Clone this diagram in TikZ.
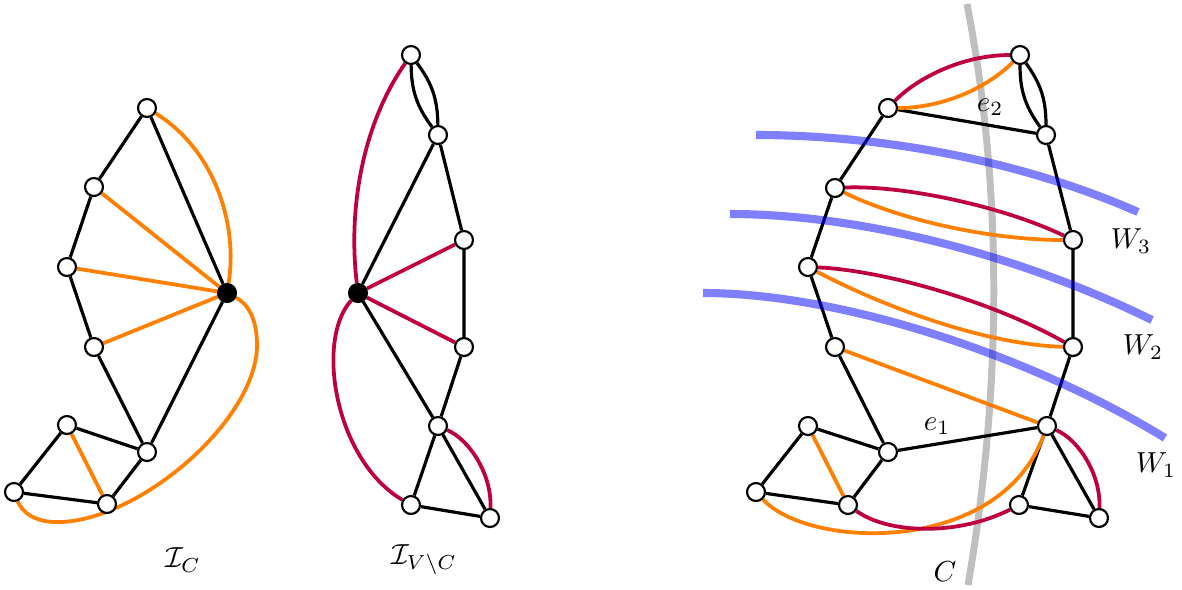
\documentclass[tikz,border=0pt]{standalone}
\usetikzlibrary{calc}
\pgfdeclarelayer{background}
\pgfsetlayers{background,main}
\begin{document}
\begin{tikzpicture}[x=0.345pt,y=-0.345pt,
  vtx/.style={circle,draw=black,fill=white,line width=0.75pt,inner sep=0pt,minimum size=6.2pt},
  hub/.style={circle,draw=black,fill=black,line width=0.75pt,inner sep=0pt,minimum size=6.2pt},
  blk/.style={line width=1.1pt,black},
  org/.style={line width=1.3pt,orange},
  mag/.style={line width=1.3pt,purple},
  wall/.style={line width=2.8pt,blue,opacity=0.5,line cap=butt},
  cut/.style={line width=2.4pt,black!25},
  lab/.style={inner sep=1pt}]
\useasboundingbox (0,0) rectangle (1182,589);

% ---------- left graph I_C ----------
\node[vtx] (T) at (147,108) {};
\node[vtx] (A1) at (94,187) {};
\node[vtx] (A2) at (67,267) {};
\node[vtx] (A3) at (94,347) {};
\node[hub] (H) at (227,293) {};
\node[vtx] (B) at (147,452) {};
\node[vtx] (L1) at (67,425) {};
\node[vtx] (L2) at (14,492) {};
\node[vtx] (L3) at (107,504) {};

% ---------- middle graph ----------
\node[vtx] (M1) at (411,55) {};
\node[vtx] (M2) at (438,135) {};
\node[vtx] (M3) at (464,240) {};
\node[hub] (H2) at (358,293) {};
\node[vtx] (M4) at (464,347) {};
\node[vtx] (M5) at (438,426) {};
\node[vtx] (M6) at (411,505) {};
\node[vtx] (M7) at (490,518) {};

% ---------- right graph ----------
\node[vtx] (R1) at (1020,55) {};
\node[vtx] (R2) at (888,108) {};
\node[vtx] (R3) at (1046,135) {};
\node[vtx] (R4) at (835,188) {};
\node[vtx] (R5) at (1073,240) {};
\node[vtx] (R6) at (808,267) {};
\node[vtx] (R7) at (835,347) {};
\node[vtx] (R8) at (1073,347) {};
\node[vtx] (R9) at (1047,426) {};
\node[vtx] (R10) at (888,452) {};
\node[vtx] (R11) at (808,426) {};
\node[vtx] (R12) at (756,492) {};
\node[vtx] (R13) at (848,505) {};
\node[vtx] (R14) at (1019,505) {};
\node[vtx] (R15) at (1099,518) {};

\coordinate (Ctop) at (967,4);
\coordinate (Cbot) at (968,585);
\coordinate (W3a) at (756,135);
\coordinate (W3b) at (1138,212);
\coordinate (W2a) at (730,214);
\coordinate (W2b) at (1152,320);
\coordinate (W1a) at (703,293);
\coordinate (W1b) at (1165,438);

\begin{pgfonlayer}{background}
% cut C (behind)
\draw[cut] (Ctop) .. controls (1005,200) and (1000,400) .. (Cbot);

% left edges
\draw[blk] (T) -- (A1) -- (A2) -- (A3) -- (B) -- (H) -- (T);
\draw[blk] (L1) -- (B) -- (L3) -- (L2) -- (L1);
\draw[org] (A1) -- (H);
\draw[org] (A2) -- (H);
\draw[org] (A3) -- (H);
\draw[org] (L1) -- (L3);
\draw[org] (T) .. controls (215,150) and (238,225) .. (H);
\draw[org] (H) .. controls (250,305) and (257,322) .. (257,345)
  .. controls (257,420) and (140,520) .. (60,522)
  .. controls (35,523) and (22,512) .. (L2);

% middle edges
\draw[blk] (M1) to[bend left=18] (M2);
\draw[blk] (M1) to[bend right=18] (M2);
\draw[blk] (M2) -- (M3) -- (M4) -- (M5) -- (M6) -- (M7) -- (M5);
\draw[blk] (H2) -- (M2);
\draw[blk] (H2) -- (M5);
\draw[mag] (H2) -- (M3);
\draw[mag] (H2) -- (M4);
\draw[mag] (H2) .. controls (348,210) and (362,125) .. (M1);
\draw[mag] (H2) .. controls (315,340) and (335,460) .. (M6);
\draw[mag] (M5) .. controls (470,440) and (492,475) .. (M7);

% right edges
\draw[blk] (R2) -- (R4) -- (R6) -- (R7) -- (R10) -- (R11) -- (R12) -- (R13) -- (R10);
\draw[blk] (R2) -- (R3);
\draw[blk] (R10) -- (R9);
\draw[blk] (R1) to[bend left=18] (R3);
\draw[blk] (R1) to[bend right=18] (R3);
\draw[blk] (R3) -- (R5) -- (R8) -- (R9) -- (R14) -- (R15) -- (R9);
\draw[mag] (R2) .. controls (915,80) and (960,55) .. (R1);
\draw[org] (R2) .. controls (940,108) and (985,90) .. (R1);
\draw[mag] (R4) .. controls (900,185) and (1000,205) .. (R5);
\draw[org] (R4) .. controls (900,220) and (990,240) .. (R5);
\draw[mag] (R6) .. controls (880,270) and (990,300) .. (R8);
\draw[org] (R6) .. controls (890,310) and (990,345) .. (R8);
\draw[org] (R7) -- (R9);
\draw[org] (R11) -- (R13);
\draw[org] (R12) .. controls (810,550) and (1000,555) .. (R9);
\draw[mag] (R13) .. controls (890,535) and (960,535) .. (R14);
\draw[mag] (R9) .. controls (1079,440) and (1101,475) .. (R15);

% walls
\draw[wall] (W3a) .. controls (880,135) and (1020,160) .. (W3b);
\draw[wall] (W2a) .. controls (860,214) and (1020,255) .. (W2b);
\draw[wall] (W1a) .. controls (840,293) and (1030,355) .. (W1b);
\end{pgfonlayer}

% labels
\node[lab] (lIC) at (183,560) {$\mathcal{I}_C$};
\node[lab] (lIV) at (424,560) {$\mathcal{I}_{V\setminus C}$};
\node[lab] (le2) at (990,107) {$e_2$};
\node[lab] (le1) at (937,426) {$e_1$};
\node[lab] (lW3) at (1131,241) {$W_3$};
\node[lab] (lW2) at (1143,347) {$W_2$};
\node[lab] (lW1) at (1156,465) {$W_1$};
\node[lab] (lC) at (945,572) {$C$};
\end{tikzpicture}
\end{document}
